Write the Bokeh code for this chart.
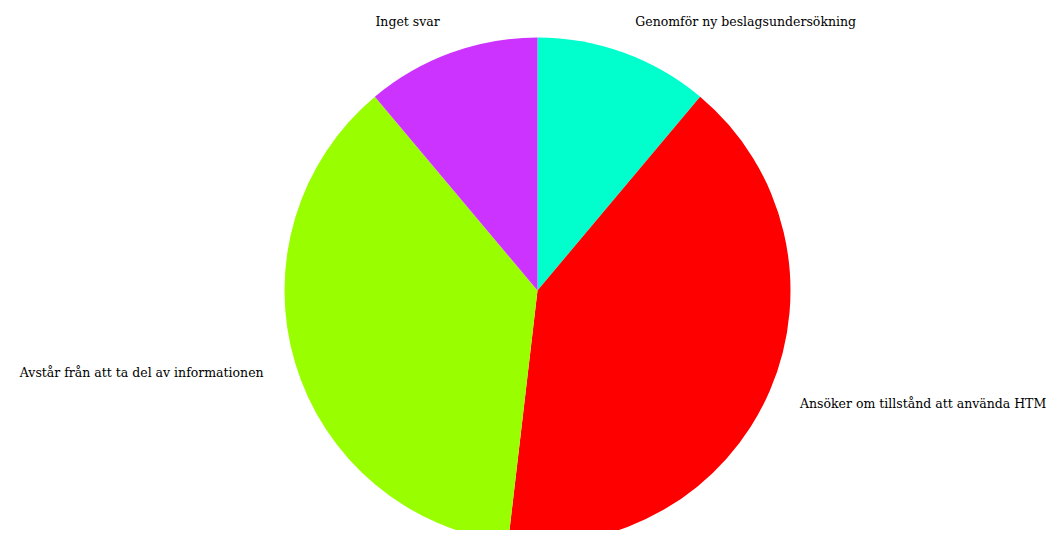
import math
from bokeh.plotting import figure
from bokeh.models import Range1d, ColumnDataSource
from bokeh.core.properties import value
from bokeh.embed import file_html
from bokeh.resources import INLINE

categories = ["Genomför ny beslagsundersökning", "Ansöker om tillstånd att använda HTM",
              "Avstår från att ta del av informationen", "Inget svar"]
counts = [9, 33, 30, 9]
colors = ["#00FFCC", "#FF0000", "#99FF00", "#CC33FF"]

W, H = 1047, 530
cx, cy, R = 537, H - 290, 253

total = sum(counts)
starts, ends, lx, ly, align = [], [], [], [], []
cum = 0
for c in counts:
    a0 = cum / total * 2 * math.pi
    cum += c
    a1 = cum / total * 2 * math.pi
    starts.append(math.pi / 2 - a0)
    ends.append(math.pi / 2 - a1)
    mid = (a0 + a1) / 2
    rl = R * 1.13
    lx.append(cx + rl * math.sin(mid))
    ly.append(cy + rl * math.cos(mid))
    align.append("left" if math.sin(mid) >= 0 else "right")

src = ColumnDataSource(dict(cat=categories, start=starts, end=ends, color=colors,
                            lx=lx, ly=ly, align=align))

p = figure(width=W, height=H, output_backend="svg", toolbar_location=None,
           x_range=Range1d(0, W), y_range=Range1d(0, H), min_border=0)
p.axis.visible = False
p.grid.visible = False
p.outline_line_color = None
p.background_fill_color = "white"

p.wedge(x=cx, y=cy, radius=R, radius_units="screen", start_angle="start", end_angle="end",
        direction="clock", fill_color="color", line_color=None, source=src)
p.text(x="lx", y="ly", text="cat", text_align="align", text_baseline="middle",
       text_font=value("DejaVu Serif"), text_font_size="12.5px", text_color="#000000", source=src)

open("out.html", "w").write(file_html(p, INLINE))
